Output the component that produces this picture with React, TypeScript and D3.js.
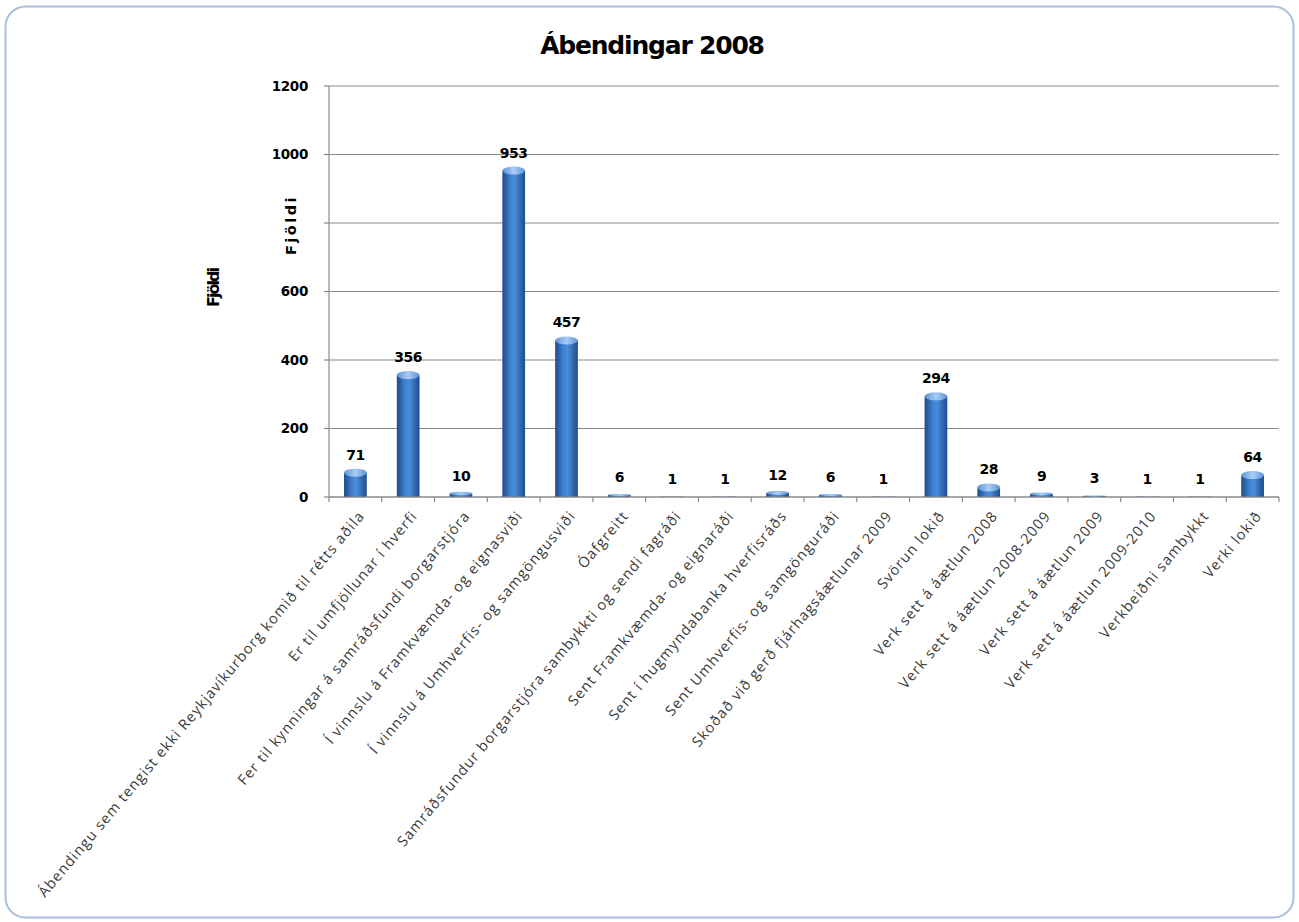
import * as d3 from 'd3'

const categories = [
  'Ábendingu sem tengist ekki Reykjavíkurborg komið til rétts aðila',
  'Er til umfjöllunar í hverfi',
  'Fer til kynningar á samráðsfundi  borgarstjóra',
  'Í vinnslu á Framkvæmda- og eignasviði',
  'Í vinnslu á Umhverfis- og samgöngusviði',
  'Óafgreitt',
  'Samráðsfundur borgarstjóra sambykkti og sendi fagráði',
  'Sent Framkvæmda-  og eignaráði',
  'Sent í hugmyndabanka  hverfisráðs',
  'Sent Umhverfis- og samgönguráði',
  'Skoðað við gerð fjárhagsáætlunar  2009',
  'Svörun lokið',
  'Verk sett á áætlun 2008',
  'Verk sett á áætlun 2008-2009',
  'Verk sett á áætlun 2009',
  'Verk sett á áætlun 2009-2010',
  'Verkbeiðni sambykkt',
  'Verki lokið',
]
const values = [71, 356, 10, 953, 457, 6, 1, 1, 12, 6, 1, 294, 28, 9, 3, 1, 1, 64]
const yTicks = [0, 200, 400, 600, 800, 1000, 1200]
// the 800 label is covered by the axis title in the original
const yTickLabels = [0, 200, 400, 600, 1000, 1200]
const title = 'Ábendingar 2008'
const yTitle = 'Fjöldi'

export default function App() {
  const width = 1299
  const height = 922
  const left = 329
  const right = 1279
  const bottom = 497
  const top = 86

  const x = d3.scaleBand<number>(d3.range(categories.length), [left, right]).paddingInner(0.57).paddingOuter(0.285)
  const xStep = (right - left) / categories.length
  const y = d3.scaleLinear([0, 1200], [bottom, top])
  const bw = x.bandwidth()
  const labelFont = '"Open Sans", "DejaVu Sans", sans-serif'
  const boldFont = '"DejaVu Sans", sans-serif'

  return (
    <svg width={width} height={height} style={{ position: 'absolute', left: 0, top: 0 }}>
      <defs>
        <linearGradient id="barGrad" x1="0" x2="1" y1="0" y2="0">
          <stop offset="0%" stopColor="#1d4a87" />
          <stop offset="35%" stopColor="#3f80d2" />
          <stop offset="55%" stopColor="#4a8cdc" />
          <stop offset="100%" stopColor="#1f4c8a" />
        </linearGradient>
        <linearGradient id="capGrad" x1="0" x2="1" y1="0" y2="0">
          <stop offset="0%" stopColor="#5d93d6" />
          <stop offset="50%" stopColor="#a9cdf5" />
          <stop offset="100%" stopColor="#5d93d6" />
        </linearGradient>
      </defs>
      <rect x={0} y={0} width={width} height={height} fill="#ffffff" />
      <rect x={5.5} y={6.5} width={1288} height={911} rx={20} fill="#ffffff" stroke="#a9bedb" strokeWidth={2} />

      <text x={652} y={54} textAnchor="middle" fontFamily={boldFont} fontWeight="bold" fontSize={25} letterSpacing={-1.2} fill="#000">
        {title}
      </text>

      {yTicks.map((t) => (
        <g key={t}>
          <line x1={left} x2={right} y1={y(t)} y2={y(t)} stroke="#8a8a8a" strokeWidth={1.2} />
          <line x1={left - 5} x2={left} y1={y(t)} y2={y(t)} stroke="#8a8a8a" strokeWidth={1.2} />
        </g>
      ))}
      {yTickLabels.map((t) => (
        <text key={t} x={308} y={y(t)} dy="0.36em" textAnchor="end" fontFamily={boldFont} fontWeight="bold" fontSize={13.5} letterSpacing={-0.3} fill="#000">
          {t}
        </text>
      ))}
      <line x1={left} x2={left} y1={top} y2={bottom} stroke="#8a8a8a" strokeWidth={1.2} />

      <text transform={`translate(296,225) rotate(-90)`} textAnchor="middle" fontFamily={boldFont} fontWeight="bold" fontSize={14.5} letterSpacing={2.5} fill="#000">
        {yTitle}
      </text>
      <text transform={`translate(219,288) rotate(-90)`} textAnchor="middle" fontFamily={boldFont} fontWeight="bold" fontSize={16} letterSpacing={-2} fill="#000">
        {yTitle}
      </text>

      {values.map((v, i) => {
        const bx = x(i) as number
        const by = y(v)
        const h = bottom - by
        const ry = Math.min(4, h / 2)
        return (
          <g key={i}>
            <rect x={bx} y={by} width={bw} height={h} fill="url(#barGrad)" />
            <ellipse cx={bx + bw / 2} cy={by} rx={bw / 2} ry={ry} fill="url(#capGrad)" />
            <text x={bx + bw / 2} y={by - 13} textAnchor="middle" fontFamily={boldFont} fontWeight="bold" fontSize={14} letterSpacing={-0.5} fill="#000">
              {v}
            </text>
          </g>
        )
      })}

      <line x1={left} x2={right} y1={bottom} y2={bottom} stroke="#8a8a8a" strokeWidth={1.2} />
      {d3.range(categories.length + 1).map((i) => (
        <line key={i} x1={left + i * xStep} x2={left + i * xStep} y1={bottom} y2={bottom + 5} stroke="#8a8a8a" strokeWidth={1.2} />
      ))}

      {categories.map((c, i) => {
        const cx = (x(i) as number) + bw / 2
        return (
          <text
            key={i}
            transform={`translate(${cx + 6},${bottom + 16}) rotate(-50)`}
            textAnchor="end"
            dy="0.35em"
            fontFamily={labelFont}
            fontSize={14.5}
            letterSpacing={1.05}
            fill="#3a3a3a"
          >
            {c}
          </text>
        )
      })}
    </svg>
  )
}
